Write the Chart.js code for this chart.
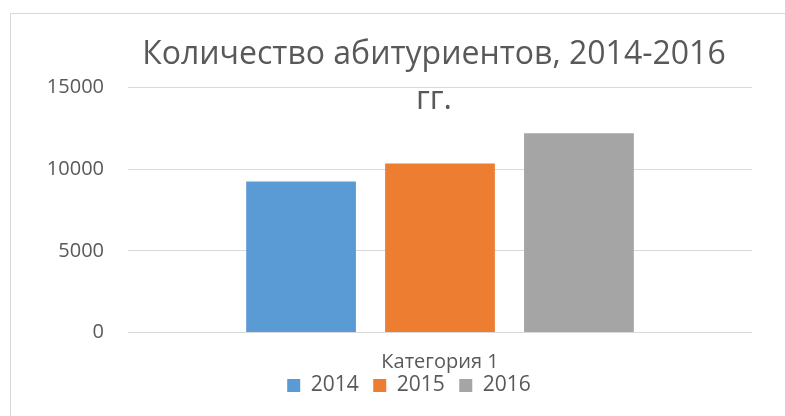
<!DOCTYPE html>
<html>
<head>
<meta charset="utf-8">
<script src="https://cdn.jsdelivr.net/npm/chart.js@4/dist/chart.umd.min.js"></script>
<style>
    body { margin: 0; background: #fff; overflow: hidden; }
    #box { position: absolute; left: 10px; top: 13px; border: 1px solid #d9d9d9; }
</style>
</head>
<body>
<div id="box"><canvas id="chart" width="796" height="420"></canvas></div>
<script>
var categories = ["Категория 1"];
var seriesNames = ["2014", "2015", "2016"];
var seriesValues = [[9240], [10350], [12200]];
var seriesColors = ["#5b9bd5", "#ed7d31", "#a5a5a5"];
// leading spaces push the centred title a little to the right, like the original
var titleLines = ["      Количество абитуриентов, 2014-2016", "      гг."];

var textColor = "#595959";
var datasets = [];
for (var i = 0; i < seriesNames.length; i++) {
    datasets.push({
        label: seriesNames[i],
        data: seriesValues[i],
        backgroundColor: seriesColors[i],
        borderWidth: 0,
        categoryPercentage: 0.668,
        barPercentage: 0.79
    });
}

var ctx = document.getElementById("chart").getContext("2d");
new Chart(ctx, {
    type: "bar",
    data: { labels: categories, datasets: datasets },
    options: {
        responsive: false,
        animation: false,
        devicePixelRatio: 1,
        layout: { padding: { left: 0, right: 0, top: 0, bottom: 28 } },
        plugins: {
            title: {
                display: true,
                text: titleLines,
                color: textColor,
                font: { family: "Open Sans", size: 32, weight: "normal", lineHeight: 1.406 },
                padding: { top: 18, bottom: -34.5 }
            },
            legend: {
                position: "bottom",
                labels: {
                    color: textColor,
                    font: { family: "Open Sans", size: 21 },
                    boxWidth: 13,
                    boxHeight: 13,
                    padding: 14.5
                }
            },
            tooltip: { enabled: false }
        },
        scales: {
            x: {
                grid: { display: false, drawTicks: false },
                border: { display: false },
                // mirror keeps the label from being clipped to the short axis box
                ticks: { color: textColor, font: { family: "Open Sans", size: 20 }, padding: -42, mirror: true },
                afterFit: function (scale) { scale.height = 28; }
            },
            y: {
                min: 0,
                max: 15000,
                grid: { color: "#d9d9d9", drawTicks: false },
                border: { display: false },
                ticks: {
                    stepSize: 5000,
                    color: textColor,
                    font: { family: "Open Sans", size: 20 },
                    padding: 24,
                    callback: function (v) { return String(v); }
                },
                afterFit: function (scale) { scale.width = 117; }
            },
            // empty right-hand axis, only to leave the blank margin on the right
            spacer: {
                position: "right",
                grid: { display: false, drawTicks: false },
                border: { display: false },
                ticks: { display: false },
                afterFit: function (scale) { scale.width = 55; }
            }
        }
    }
});
</script>
</body>
</html>
